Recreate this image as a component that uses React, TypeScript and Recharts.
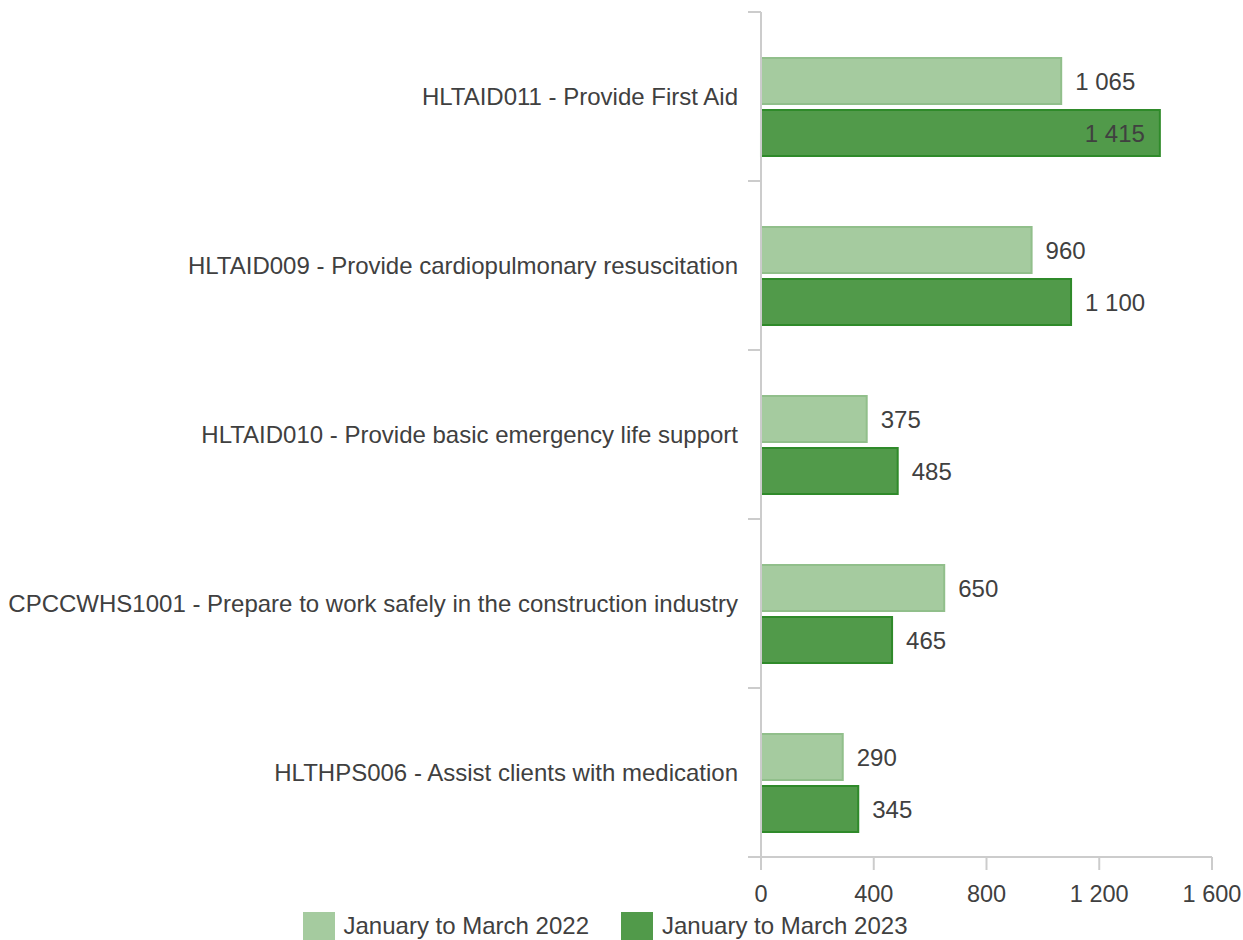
// Course enrolments, Jan–Mar 2022 vs 2023 — horizontal grouped bars.
import { Bar, BarChart, LabelList, Legend, XAxis, YAxis } from "recharts";

const COURSES = [
  "HLTAID011 - Provide First Aid",
  "HLTAID009 - Provide cardiopulmonary resuscitation",
  "HLTAID010 - Provide basic emergency life support",
  "CPCCWHS1001 - Prepare to work safely in the construction industry",
  "HLTHPS006 - Assist clients with medication",
];
const Y2022 = [1065, 960, 375, 650, 290];
const Y2023 = [1415, 1100, 485, 465, 345];
const X_TICKS = [0, 400, 800, 1200, 1600];

const SERIES = [
  { key: "y2022", name: "January to March 2022", fill: "#a5cb9f", stroke: "#91bf8b" },
  { key: "y2023", name: "January to March 2023", fill: "#519a4a", stroke: "#2f8a2a" },
];

const rows = COURSES.map((course, i) => ({ course, y2022: Y2022[i], y2023: Y2023[i] }));

const FONT = "'Liberation Sans', Arial, sans-serif";
const TEXT = "#404040";
const GRID = "#cccccc";
const PLOT_RIGHT = 1212;
const FS = 24;

const fmt = (v: number) => String(v).replace(/\B(?=(\d{3})+(?!\d))/g, " ");

function CourseTick(props: any) {
  const { x, y, payload, index, visibleTicksCount } = props;
  const half = payload?.offset ?? 0;
  const x1 = Number(x) + 10;
  const x2 = Number(x) + 23;
  return (
    <g>
      <text x={x} y={y} dy="0.355em" textAnchor="end" fill={TEXT} fontSize={FS} fontFamily={FONT}>
        {payload.value}
      </text>
      <line x1={x1} x2={x2} y1={y - half} y2={y - half} stroke={GRID} strokeWidth={2} />
      {index === visibleTicksCount - 1 && <line x1={x1} x2={x2} y1={y + half} y2={y + half} stroke={GRID} strokeWidth={2} />}
    </g>
  );
}

function ValueLabel(props: any) {
  const x = Number(props.x);
  const y = Number(props.y);
  const width = Number(props.width);
  const height = Number(props.height);
  const text = fmt(Number(props.value));
  const end = x + width;
  const inside = end + 14 + text.length * 13 > PLOT_RIGHT;
  return (
    <text
      x={inside ? end - 15 : end + 14}
      y={y + height / 2}
      dy="0.355em"
      textAnchor={inside ? "end" : "start"}
      fill={TEXT}
      fontSize={FS}
      fontFamily={FONT}
    >
      {text}
    </text>
  );
}

function LegendBox() {
  return (
    <div style={{ display: "flex", justifyContent: "center", alignItems: "flex-end", height: 33, width: 1210, fontFamily: FONT, fontSize: FS, color: TEXT }}>
      {SERIES.map((s, i) => (
        <div key={s.key} style={{ display: "flex", alignItems: "center", marginLeft: i ? 32 : 0 }}>
          <span style={{ display: "inline-block", width: 32, height: 28, background: s.fill, marginRight: 9 }} />
          <span style={{ lineHeight: "28px" }}>{s.name}</span>
        </div>
      ))}
    </div>
  );
}

export default function App() {
  return (
    <div style={{ position: "absolute", left: 0, top: 0, width: 1243, height: 940, background: "#fff" }}>
      <BarChart
        layout="vertical"
        width={1243}
        height={940}
        data={rows}
        margin={{ top: 12, right: 31, left: 0, bottom: 0 }}
        barGap={6}
        barSize={46}
      >
        <XAxis
          type="number"
          domain={[0, 1600]}
          ticks={X_TICKS}
          tickFormatter={fmt}
          tickSize={13}
          tickMargin={15}
          height={50}
          axisLine={{ stroke: GRID, strokeWidth: 2 }}
          tickLine={{ stroke: GRID, strokeWidth: 2 }}
          tick={{ fill: TEXT, fontSize: 23.5, fontFamily: FONT }}
        />
        <YAxis
          yAxisId="labels"
          type="category"
          dataKey="course"
          width={761}
          interval={0}
          tickSize={13}
          tickMargin={10}
          tickLine={false}
          axisLine={{ stroke: GRID, strokeWidth: 2 }}
          tick={<CourseTick />}
        />
        <YAxis yAxisId="bars" type="category" dataKey="course" hide width={0} padding={{ top: 10, bottom: -10 }} />
        {SERIES.map((s) => (
          <Bar key={s.key} yAxisId="bars" dataKey={s.key} name={s.name} fill={s.fill} stroke={s.stroke} strokeWidth={2} isAnimationActive={false}>
            <LabelList dataKey={s.key} content={<ValueLabel />} />
          </Bar>
        ))}
        <Legend verticalAlign="bottom" content={<LegendBox />} wrapperStyle={{ left: 0, bottom: 0, width: 1210 }} />
      </BarChart>
    </div>
  );
}
